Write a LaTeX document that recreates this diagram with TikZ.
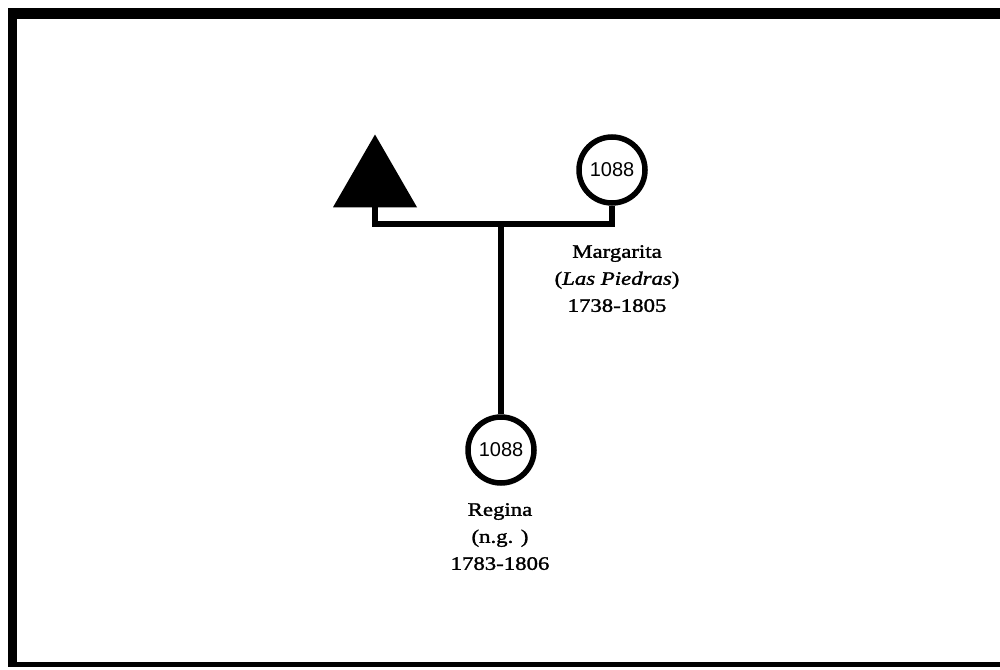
\documentclass[tikz,border=0pt]{standalone}
\usepackage{fontspec}
\newfontfamily\labelfont[FakeStretch=1.2,FakeBold=1.5]{Liberation Serif}
\newfontfamily\idfont{Liberation Sans}
\usetikzlibrary{shapes.geometric}
\tikzset{
  person/.style={circle, draw=black, line width=5.5pt, fill=white, minimum size=66pt, inner sep=0pt, font=\idfont\fontsize{20}{20}\selectfont},
  male/.style={regular polygon, regular polygon sides=3, fill=black, minimum size=97pt, inner sep=0pt},
  link/.style={line width=6.5pt, line join=miter},
  caption/.style={align=center, font=\labelfont\fontsize{19}{27}\selectfont, inner sep=0pt},
  frame/.style={fill=black}
}
\begin{document}
\begin{tikzpicture}[x=1pt, y=-1pt]
  \useasboundingbox (0,0) rectangle (1000,669);
  \fill[white] (0,0) rectangle (1000,669);
  % page frame
  \fill[frame] (8,8) rectangle (1000,19);
  \fill[frame] (8,8) rectangle (17,667);
  \fill[frame] (8,662) rectangle (1000,667);

  % people
  \node[male] (father) at (375,183) {};
  \node[person] (margarita) at (612,170) {1088};
  \node[person] (regina) at (501,450) {1088};

  % couple line and descent line
  \coordinate (couple) at (501,224);
  \draw[link] (father.south) |- (couple) -| (margarita.south);
  \draw[link] (couple) -- (regina.north);

  % captions
  \node[caption, anchor=north] (mlabel) at (617,245) {Margarita\\(\textit{Las Piedras})\\1738-1805};
  \node[caption, anchor=north] (rlabel) at (500,503) {Regina\\(n.g. )\\1783-1806};
\end{tikzpicture}
\end{document}
